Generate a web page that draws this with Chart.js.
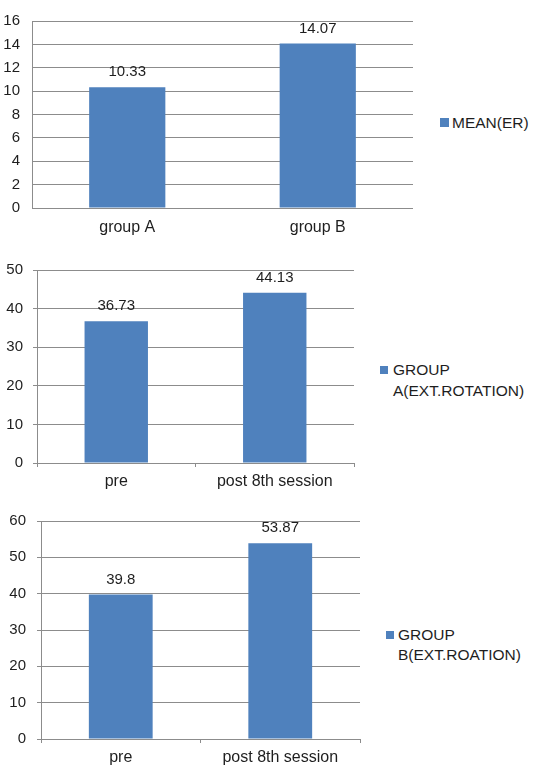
<!DOCTYPE html>
<html lang="en">
<head>
    <meta charset="UTF-8">
    <title>ER means</title>
    <script src="https://cdn.jsdelivr.net/npm/chart.js"></script>
    <style>
        * { margin: 0; padding: 0; box-sizing: border-box; }
        body { width: 540px; height: 775px; background: #fff; position: relative; overflow: hidden;
               font-family: 'Liberation Sans', Arial, sans-serif; color: #1e1e1e; }
        .box { position: absolute; left: 0; }
        .legend { position: absolute; font-size: 15.5px; }
        .legend i { position: absolute; background: #4f81bd; }
    </style>
</head>
<body>
    <div class="box" style="top:0;width:420px;height:245px"><canvas id="c1"></canvas></div>
    <div class="box" style="top:245px;width:360px;height:255px"><canvas id="c2"></canvas></div>
    <div class="box" style="top:500px;width:366px;height:275px"><canvas id="c3"></canvas></div>

    <div class="legend" id="l1" style="left:452px;top:113px;line-height:20px;max-width:90px">
        <i style="left:-12px;top:5px;width:9px;height:9px"></i><span></span></div>
    <div class="legend" id="l2" style="left:393px;top:360px;line-height:20.5px;max-width:145px">
        <i style="left:-13px;top:6px;width:8px;height:8px"></i><span></span></div>
    <div class="legend" id="l3" style="left:398px;top:625px;line-height:19.5px;max-width:141px">
        <i style="left:-12px;top:6px;width:8px;height:8px"></i><span></span></div>

    <script>
        // data
        const erLabels = ['group A', 'group B'];
        const erValues = [10.33, 14.07];
        const erSeries = 'MEAN(ER)';

        const groupALabels = ['pre', 'post 8th session'];
        const groupAValues = [36.73, 44.13];
        const groupASeries = 'GROUP A(EXT.ROTATION)';

        const groupBLabels = ['pre', 'post 8th session'];
        const groupBValues = [39.8, 53.87];
        const groupBSeries = 'GROUP B(EXT.ROATION)';

        const erTicks = { max: 16, step: 2 };
        const groupATicks = { max: 50, step: 10 };
        const groupBTicks = { max: 60, step: 10 };

        const blue = '#4f81bd';
        const gridGray = '#8c8c8c';
        const textColor = '#1e1e1e';
        const family = "'Liberation Sans', Arial, sans-serif";

        // value labels above each bar
        const valueLabels = {
            id: 'valueLabels',
            afterDatasetsDraw(chart) {
                const ctx = chart.ctx;
                const ds = chart.data.datasets[0];
                ctx.save();
                ctx.fillStyle = textColor;
                ctx.font = '15px ' + family;
                ctx.textAlign = 'center';
                ctx.textBaseline = 'middle';
                chart.getDatasetMeta(0).data.forEach((bar, i) => {
                    ctx.fillText(String(ds.data[i]), bar.x, bar.y - 15);
                });
                ctx.restore();
            }
        };

        function makeChart(id, labels, values, series, ticks, opts) {
            new Chart(document.getElementById(id), {
                type: 'bar',
                data: {
                    labels: labels,
                    datasets: [{
                        label: series,
                        data: values,
                        backgroundColor: blue,
                        barPercentage: 0.4,
                        categoryPercentage: 1
                    }]
                },
                options: {
                    responsive: true,
                    maintainAspectRatio: false,
                    animation: false,
                    layout: { padding: { top: opts.top, right: opts.right, left: 0, bottom: 0 } },
                    plugins: { legend: { display: false }, tooltip: { enabled: false } },
                    scales: {
                        x: {
                            grid: {
                                display: opts.ticks,
                                drawOnChartArea: false,
                                tickLength: 4,
                                color: gridGray
                            },
                            border: { display: false },
                            ticks: { color: textColor, font: { family: family, size: 16 }, padding: opts.xPad },
                            afterFit(scale) { scale.height = opts.xHeight; }
                        },
                        y: {
                            min: 0,
                            max: ticks.max,
                            grid: { color: gridGray, drawTicks: opts.ticks, tickLength: 4 },
                            border: { display: true, color: gridGray },
                            ticks: { stepSize: ticks.step, color: textColor, font: { family: family, size: 15 }, padding: opts.yPad },
                            afterFit(scale) { scale.width = opts.yWidth; }
                        }
                    }
                },
                plugins: [valueLabels]
            });
        }

        makeChart('c1', erLabels, erValues, erSeries, erTicks,
            { top: 18, right: 7, xHeight: 37, yWidth: 32, yPad: 12, xPad: 6, ticks: false });
        makeChart('c2', groupALabels, groupAValues, groupASeries, groupATicks,
            { top: 25, right: 6, xHeight: 37, yWidth: 37, yPad: 10, xPad: 5, ticks: true });
        makeChart('c3', groupBLabels, groupBValues, groupBSeries, groupBTicks,
            { top: 21, right: 6, xHeight: 36, yWidth: 41, yPad: 11, xPad: 5, ticks: true });

        document.querySelector('#l1 span').textContent = erSeries;
        document.querySelector('#l2 span').textContent = groupASeries;
        document.querySelector('#l3 span').textContent = groupBSeries;
    </script>
</body>
</html>
